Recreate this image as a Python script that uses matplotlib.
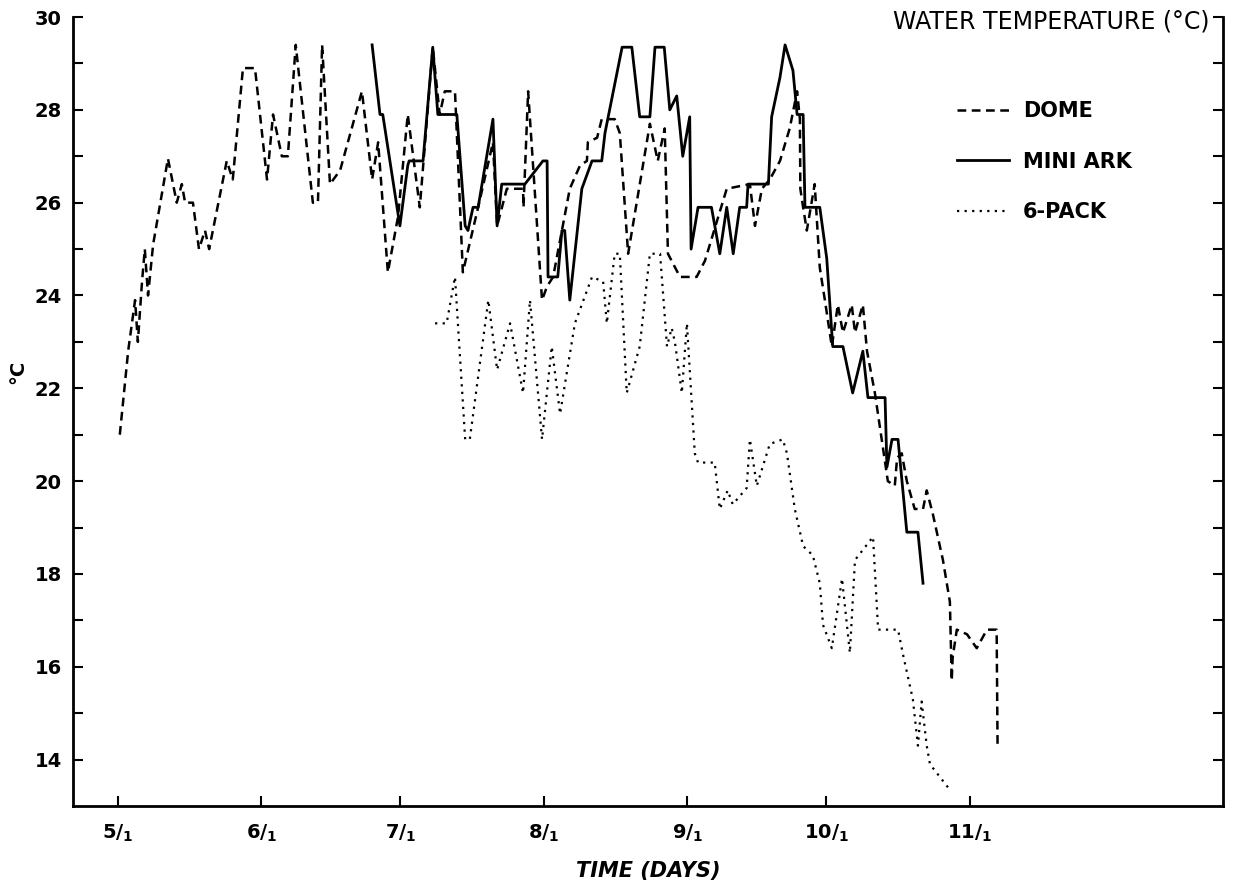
import matplotlib
matplotlib.use('Agg')
import matplotlib.pyplot as plt

plt.rcParams['font.family'] = ['DejaVu Sans']
plt.rcParams['mathtext.default'] = 'regular'

# days counted from May 1, temperature in deg C
dome = [(0.4, 21.0), (2.2, 22.8), (3.7, 23.9), (4.3, 23.0), (5.2, 24.3), (5.8, 25.0),
        (6.5, 24.0), (7.6, 25.1), (10.8, 26.95), (12.7, 26.0), (13.8, 26.4), (14.5, 26.0),
        (16.2, 26.0), (17.5, 25.0), (18.8, 25.4), (19.7, 25.0), (23.5, 26.9), (24.8, 26.5),
        (27.0, 28.9), (29.6, 28.9), (32.2, 26.5), (33.5, 27.9), (35.4, 27.0), (36.7, 27.0),
        (38.4, 29.4), (42.1, 26.0), (43.2, 26.0), (44.1, 29.4), (45.8, 26.4), (48.0, 26.7),
        (52.7, 28.4), (54.9, 26.5), (56.2, 27.3), (58.3, 24.5), (60.5, 25.7), (62.6, 27.9),
        (65.2, 25.9), (68.0, 29.35), (69.5, 27.9), (70.6, 28.4), (72.8, 28.4), (74.5, 24.5),
        (77.8, 25.9), (81.0, 27.3), (81.9, 25.5), (84.0, 26.3), (87.5, 26.3), (87.6, 25.9),
        (88.6, 28.4), (91.6, 23.9), (92.7, 24.2), (94.0, 24.4), (97.6, 26.3), (99.8, 26.8),
        (101.3, 26.9), (101.5, 27.3), (103.5, 27.4), (104.5, 27.8), (107.3, 27.8), (108.4, 27.5),
        (110.2, 24.9), (114.9, 27.7), (116.6, 26.9), (118.1, 27.6), (118.8, 24.9), (121.4, 24.4),
        (125.0, 24.4), (126.8, 24.75), (131.5, 26.3), (136.5, 26.4), (137.6, 25.5), (139.1, 26.3),
        (140.8, 26.5), (143.0, 26.9), (145.1, 27.6), (146.7, 28.4), (147.3, 27.8), (147.4, 26.3),
        (148.0, 25.9), (148.8, 25.4), (150.5, 26.4), (151.6, 24.6), (152.7, 23.9), (154.2, 22.9),
        (155.5, 23.8), (156.6, 23.2), (158.5, 23.8), (159.2, 23.2), (160.9, 23.8), (161.8, 22.8),
        (163.5, 21.9), (166.3, 20.0), (167.8, 19.9), (168.3, 20.5), (169.3, 20.6), (170.4, 20.0),
        (172.1, 19.4), (173.9, 19.4), (174.7, 19.8), (176.0, 19.3), (178.2, 18.3), (179.7, 17.4),
        (180.1, 15.7), (180.3, 16.2), (181.2, 16.8), (183.4, 16.7), (185.5, 16.4), (187.7, 16.8),
        (189.8, 16.8), (190.0, 14.3)]

mini_ark = [(54.9, 29.4), (56.6, 27.9), (57.2, 27.9), (60.9, 25.5), (62.6, 26.8), (62.9, 26.9),
            (65.9, 26.9), (68.0, 29.35), (69.1, 27.9), (73.2, 27.9), (75.0, 25.5), (75.6, 25.4),
            (76.7, 25.9), (77.8, 25.9), (81.0, 27.8), (81.9, 25.5), (82.9, 26.4), (87.9, 26.4),
            (91.8, 26.9), (92.7, 26.9), (92.9, 24.4), (95.0, 24.4), (95.9, 25.4), (96.5, 25.4),
            (97.6, 23.9), (100.2, 26.3), (102.4, 26.9), (104.5, 26.9), (105.2, 27.5), (108.9, 29.35),
            (111.0, 29.35), (112.7, 27.85), (114.9, 27.85), (116.0, 29.35), (118.0, 29.35),
            (119.2, 28.0), (120.7, 28.3), (122.0, 27.0), (123.5, 27.85), (123.8, 25.0),
            (125.3, 25.9), (128.2, 25.9), (130.0, 24.9), (131.5, 25.9), (132.9, 24.9),
            (134.3, 25.9), (135.8, 25.9), (136.1, 26.4), (140.5, 26.4), (141.2, 27.85),
            (143.0, 28.7), (144.1, 29.4), (145.8, 28.85), (146.7, 27.9), (148.0, 27.9),
            (148.4, 25.9), (151.6, 25.9), (153.1, 24.8), (154.4, 22.9), (156.6, 22.9),
            (158.7, 21.9), (160.9, 22.8), (162.0, 21.8), (165.7, 21.8), (166.1, 20.3),
            (167.2, 20.9), (168.5, 20.9), (170.4, 18.9), (172.8, 18.9), (173.9, 17.8)]

six_pack = [(68.5, 23.4), (71.0, 23.4), (72.8, 24.4), (75.0, 20.9), (76.0, 20.9), (80.0, 23.9),
            (81.9, 22.4), (84.7, 23.4), (87.5, 21.9), (89.0, 23.9), (91.6, 20.9), (93.7, 22.9),
            (95.5, 21.45), (98.7, 23.4), (102.4, 24.4), (104.8, 24.3), (105.6, 23.4), (107.3, 24.9),
            (108.4, 24.9), (109.9, 21.9), (112.7, 22.9), (114.9, 24.9), (117.1, 24.9), (118.6, 22.9),
            (119.6, 23.3), (120.3, 23.0), (121.8, 21.9), (122.9, 23.4), (124.6, 20.6), (125.3, 20.4),
            (128.9, 20.4), (130.0, 19.4), (131.7, 19.8), (132.8, 19.5), (135.8, 19.85), (136.5, 20.9),
            (138.0, 19.9), (140.8, 20.8), (143.6, 20.9), (144.5, 20.6), (146.2, 19.4), (148.0, 18.6),
            (150.1, 18.4), (151.6, 17.8), (152.3, 16.9), (154.2, 16.4), (156.4, 17.9), (158.1, 16.3),
            (159.2, 18.3), (163.1, 18.8), (164.2, 16.8), (168.5, 16.8), (169.5, 16.3), (171.7, 15.3),
            (172.8, 14.3), (173.6, 15.25), (174.7, 14.3), (175.4, 13.9), (179.3, 13.4)]

month_days = [0, 31, 61, 92, 123, 153, 184]
month_names = ['5', '6', '7', '8', '9', '10', '11']

fig = plt.figure(figsize=(12.36, 8.83), dpi=100)
ax = fig.add_axes([0.0591, 0.0872, 0.9304, 0.8935])

x, y = zip(*dome)
ax.plot(x, y, color='black', lw=1.8, linestyle=(0, (3.5, 2.2)), label='DOME')
x, y = zip(*mini_ark)
ax.plot(x, y, color='black', lw=2.0, label='MINI ARK')
x, y = zip(*six_pack)
ax.plot(x, y, color='black', lw=1.6, linestyle=(0, (1, 2.4)), label='6-PACK')

ax.set_xlim(-9.7, 238.7)
ax.set_ylim(13, 30)

ax.spines['top'].set_visible(False)
ax.spines['left'].set_bounds(13, 30)
ax.spines['right'].set_bounds(13, 30)
for s in ['left', 'right', 'bottom']:
    ax.spines[s].set_linewidth(2)

ax.set_yticks(range(14, 31, 2))
ax.set_yticks(range(15, 30, 2), minor=True)
ax.set_xticks(month_days)
ax.set_xticklabels([m + '/$_1$' for m in month_names])
ax.tick_params(axis='both', which='both', direction='in', length=7, width=1.5,
               labelsize=14, right=True)
ax.tick_params(axis='y', pad=8)
ax.tick_params(axis='x', pad=12)
for lab in ax.get_xticklabels() + ax.get_yticklabels():
    lab.set_fontweight('bold')

ax.set_xlabel('TIME (DAYS)', fontsize=15, fontstyle='italic', fontweight='bold', labelpad=12)
ax.set_ylabel('°C', fontsize=14, fontweight='bold')
ax.yaxis.set_label_coords(-0.04, 0.55)

ax.text(0.988, 0.994, 'WATER TEMPERATURE (°C)', transform=ax.transAxes, ha='right',
        va='center', fontsize=17)

ax.legend(loc='upper left', bbox_to_anchor=(0.769, 0.893), frameon=False,
          prop={'size': 15, 'weight': 'bold'},
          handlelength=2.5, handletextpad=0.65, labelspacing=1.45, borderpad=0,
          borderaxespad=0)

fig.savefig('out.png', dpi=100)
